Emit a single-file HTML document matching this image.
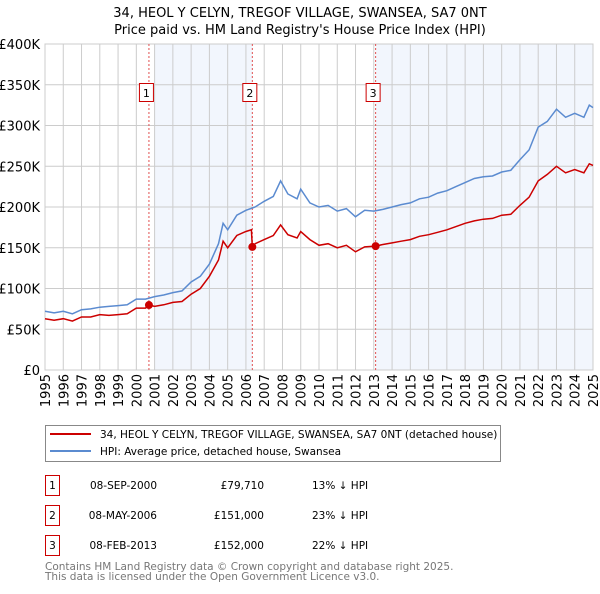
<!DOCTYPE html>
<html><head><meta charset="utf-8"><style>
body{margin:0;background:#fff;font-family:"DejaVu Sans","Liberation Sans",sans-serif;}
svg text{font-family:"DejaVu Sans","Liberation Sans",sans-serif;}
</style></head><body>
<svg id="chart" width="600" height="590" xmlns="http://www.w3.org/2000/svg">
<text x="300" y="17" font-size="13" text-anchor="middle">34, HEOL Y CELYN, TREGOF VILLAGE, SWANSEA, SA7 0NT</text>
<text x="300" y="34" font-size="13" text-anchor="middle">Price paid vs. HM Land Registry's House Price Index (HPI)</text>
<g id="plot"></g>
<g>
<rect x="45.5" y="425.5" width="455" height="36" fill="#fff" stroke="#888"/>
<line x1="50" y1="434" x2="91" y2="434" stroke="#cc0000" stroke-width="2"/>
<text x="100" y="438" font-size="10.5">34, HEOL Y CELYN, TREGOF VILLAGE, SWANSEA, SA7 0NT (detached house)</text>
<line x1="50" y1="451" x2="91" y2="451" stroke="#5b8bd0" stroke-width="2"/>
<text x="100" y="455" font-size="10.5">HPI: Average price, detached house, Swansea</text>
</g>
<g font-size="10.5">
<rect x="45.5" y="475.5" width="14" height="20" fill="#fff" stroke="#cc0000"/><text x="52.5" y="489" text-anchor="middle">1</text>
<text x="157" y="489" text-anchor="end">08-SEP-2000</text><text x="264" y="489" text-anchor="end">£79,710</text><text x="312" y="489">13% ↓ HPI</text>
<rect x="45.5" y="505.5" width="14" height="20" fill="#fff" stroke="#cc0000"/><text x="52.5" y="519" text-anchor="middle">2</text>
<text x="157" y="519" text-anchor="end">08-MAY-2006</text><text x="264" y="519" text-anchor="end">£151,000</text><text x="312" y="519">23% ↓ HPI</text>
<rect x="45.5" y="535.5" width="14" height="20" fill="#fff" stroke="#cc0000"/><text x="52.5" y="549" text-anchor="middle">3</text>
<text x="157" y="549" text-anchor="end">08-FEB-2013</text><text x="264" y="549" text-anchor="end">£152,000</text><text x="312" y="549">22% ↓ HPI</text>
</g>
<text x="45" y="570" font-size="10.5" fill="#777">Contains HM Land Registry data © Crown copyright and database right 2025.</text>
<text x="45" y="580" font-size="10.5" fill="#777">This data is licensed under the Open Government Licence v3.0.</text>
</svg>
<script>
const hpiYears=[1995,1995.5,1996,1996.5,1997,1997.5,1998,1998.5,1999,1999.5,2000,2000.5,2001,2001.5,2002,2002.5,2003,2003.5,2004,2004.5,2004.75,2005,2005.5,2006,2006.5,2007,2007.5,2007.9,2008.3,2008.8,2009,2009.5,2010,2010.5,2011,2011.5,2012,2012.5,2013,2013.5,2014,2014.5,2015,2015.5,2016,2016.5,2017,2017.5,2018,2018.5,2019,2019.5,2020,2020.5,2021,2021.5,2022,2022.5,2023,2023.5,2024,2024.5,2024.8,2025];
const hpiValues=[72,70,72,69,74,75,77,78,79,80,87,87,90,92,95,97,108,115,130,155,180,172,190,196,200,207,213,232,216,210,222,205,200,202,195,198,188,196,195,197,200,203,205,210,212,217,220,225,230,235,237,238,243,245,258,270,298,305,320,310,315,310,325,322];
const priceYears=[1995,1995.5,1996,1996.5,1997,1997.5,1998,1998.5,1999,1999.5,2000,2000.5,2000.69,2001,2001.5,2002,2002.5,2003,2003.5,2004,2004.5,2004.75,2005,2005.5,2006,2006.3,2006.35,2006.5,2007,2007.5,2007.9,2008.3,2008.8,2009,2009.5,2010,2010.5,2011,2011.5,2012,2012.5,2013.1,2013.5,2014,2014.5,2015,2015.5,2016,2016.5,2017,2017.5,2018,2018.5,2019,2019.5,2020,2020.5,2021,2021.5,2022,2022.5,2023,2023.5,2024,2024.5,2024.8,2025];
const priceValues=[63,61,63,60,65,65,68,67,68,69,76,76,79.7,78,80,83,84,93,100,115,135,158,150,165,170,172,151,155,160,165,178,166,162,170,160,153,155,150,153,145,151,152,154,156,158,160,164,166,169,172,176,180,183,185,186,190,191,202,212,232,240,250,242,246,242,253,251];
const saleYears=[2000.69,2006.35,2013.1];
const saleValues=[79.71,151,152];
const saleLabels=["1","2","3"];
const yTicks=[0,50,100,150,200,250,300,350,400];
const yTickLabels=["£0","£50K","£100K","£150K","£200K","£250K","£300K","£350K","£400K"];
const xTicks=[1995,1996,1997,1998,1999,2000,2001,2002,2003,2004,2005,2006,2007,2008,2009,2010,2011,2012,2013,2014,2015,2016,2017,2018,2019,2020,2021,2022,2023,2024,2025];

const X0=45,X1=593,Y0=370,Y1=44;
const xs=y=>X0+(y-1995)/30*(X1-X0);
const ys=v=>Y0-v/400*(Y0-Y1);
const NS="http://www.w3.org/2000/svg";
const g=document.getElementById('plot');
function mk(t,a){const e=document.createElementNS(NS,t);for(const k in a)e.setAttribute(k,a[k]);g.appendChild(e);return e;}

let r=mk('rect',{x:xs(2001.0),y:Y1,width:xs(saleYears[1])-xs(2001.0),height:Y0-Y1,fill:'#eef3fc',opacity:0.75});


r=mk('rect',{x:xs(saleYears[2]),y:Y1,width:X1-xs(saleYears[2]),height:Y0-Y1,fill:'#eef3fc',opacity:0.75});



yTicks.forEach((t,i)=>{
  const l=mk('line',{x1:X0,x2:X1,y1:ys(t),y2:ys(t),stroke:'#ccc'});
  
  
  const tx=mk('text',{x:X0-5,y:ys(t)+5,'font-size':13,'text-anchor':'end'});
  tx.textContent=yTickLabels[i];
  
  
});
xTicks.forEach(t=>{
  const l=mk('line',{x1:xs(t),x2:xs(t),y1:Y1,y2:Y0,stroke:'#ccc'});
  
  
  const tx=mk('text',{x:0,y:0,'font-size':13,'text-anchor':'end',transform:`translate(${xs(t)+5},374) rotate(-90)`});
  tx.textContent=t;
  
  
});
let ax=mk('rect',{x:X0,y:Y1,width:X1-X0,height:Y0-Y1,fill:'none',stroke:'#ccc'});



saleYears.forEach((s,i)=>{
  const l=mk('line',{x1:xs(s),x2:xs(s),y1:Y1,y2:Y0,stroke:'#e05050','stroke-dasharray':'2,2'});
  
  
  const b=mk('rect',{x:xs(s)-9.5,y:83.5,width:14,height:18,fill:'#fff',stroke:'#cc0000'});
  
  
  const t=mk('text',{x:xs(s)-2.5,y:97,'font-size':11,'text-anchor':'middle'});
  t.textContent=saleLabels[i];
  
  
});

const pts=(xa,va)=>xa.map((x,i)=>xs(x).toFixed(1)+','+ys(va[i]).toFixed(1)).join(' ');
let p=mk('polyline',{points:pts(hpiYears,hpiValues),fill:'none',stroke:'#5b8bd0','stroke-width':1.5});


p=mk('polyline',{points:pts(priceYears,priceValues),fill:'none',stroke:'#cc0000','stroke-width':1.5});


saleYears.forEach((s,i)=>{
  const c=mk('circle',{cx:xs(s),cy:ys(saleValues[i]),r:4,fill:'#cc0000'});
  
  
});
</script>
</body></html>
